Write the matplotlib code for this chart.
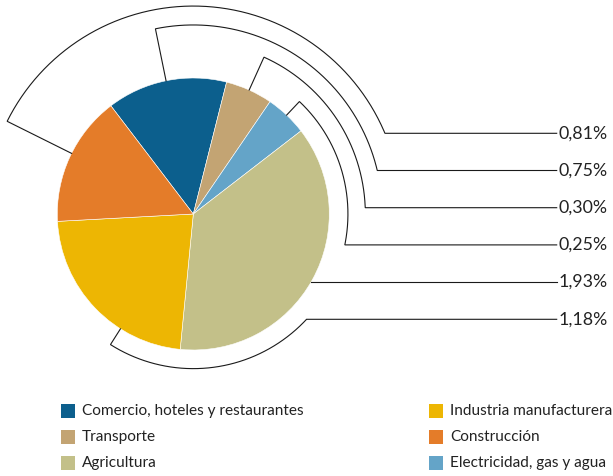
import numpy as np
import matplotlib
matplotlib.use("Agg")
import matplotlib.pyplot as plt
from matplotlib.patches import Rectangle

plt.rcParams["font.family"] = ["Lato", "DejaVu Sans"]

# Sector shares of the pie, in clockwise drawing order
sectors = ["Comercio, hoteles y restaurantes", "Transporte", "Electricidad, gas y agua",
           "Agricultura", "Industria manufacturera", "Construcción"]
shares = [14.3, 5.6, 5.0, 37.0, 22.6, 15.5]
colors = ["#0C5F8D", "#C3A473", "#64A4C8", "#C3C089", "#EDB603", "#E47C29"]

# Values shown on the right, one per sector (same order as above)
contrib_labels = ["0,75%", "0,30%", "0,25%", "1,93%", "1,18%", "0,81%"]

# Legend order (two columns)
legend_order = ["Comercio, hoteles y restaurantes", "Transporte", "Agricultura",
                "Industria manufacturera", "Construcción", "Electricidad, gas y agua"]

# Layout of the connector brackets: label row, bracket radius, anchor position in slice
row_index = [1, 2, 3, 4, 5, 0]
bracket_r = [1.390, 1.265, 1.137, 1.0, 1.137, 1.529]
anchor_frac = [0.5, 0.5, 0.5, 0.5, 0.33, 0.53]
start_angle = 127.3

W, H = 613, 476
cx, cy, scale = 193.3, 214.0, 136.0

fig = plt.figure(figsize=(W / 100, H / 100), dpi=100)
ax = fig.add_axes([0, 0, 1, 1])

wedges, _ = ax.pie(shares, colors=colors, startangle=start_angle, counterclock=False,
                   radius=1.0, center=(0, 0), frame=True,
                   wedgeprops=dict(edgecolor="white", linewidth=0.4))
ax.set_xlim(-cx / scale, (W - cx) / scale)
ax.set_ylim(-(H - cy) / scale, cy / scale)
ax.set_aspect("equal")
ax.axis("off")

row_top = (cy - 133.3) / scale
row_step = 37.2 / scale
x_end = (556.7 - cx) / scale

for w, frac, R, row, lab in zip(wedges, anchor_frac, bracket_r, row_index, contrib_labels):
    y = row_top - row * row_step
    a1 = np.degrees(np.arcsin(y / R))
    if R <= 1.0:
        # leader starts straight from the rim
        xs = [R * np.cos(np.radians(a1)), x_end]
        ys = [y, y]
    else:
        # wedge goes clockwise from theta2 to theta1
        a0 = w.theta2 - frac * (w.theta2 - w.theta1)
        a0 = (a0 + 180) % 360 - 180
        t0 = np.radians(a0)
        ang = np.radians(np.linspace(a0, a1, 200))
        xs = [np.cos(t0)] + list(R * np.cos(ang)) + [x_end]
        ys = [np.sin(t0)] + list(R * np.sin(ang)) + [y]
    ax.plot(xs, ys, color="#1a1a1a", lw=0.8, solid_joinstyle="miter")
    ax.text(x_end + 0.01, y, lab, ha="left", va="center", fontsize=12.8, color="#222222")

# Legend drawn as coloured squares with captions
color_of = dict(zip(sectors, colors))
col_x = [61, 429]
row_y = [411, 437, 463]
sq = 14
for i, name in enumerate(legend_order):
    c, r = divmod(i, 3)
    x0, y0 = col_x[c], row_y[r]
    fig.patches.append(Rectangle((x0 / W, 1 - (y0 + sq / 2) / H), sq / W, sq / H,
                                 transform=fig.transFigure, facecolor=color_of[name],
                                 edgecolor="none"))
    fig.text((x0 + 21) / W, 1 - y0 / H, name, ha="left", va="center",
             fontsize=11.1, color="#222222")

fig.savefig("out.png", dpi=100)
